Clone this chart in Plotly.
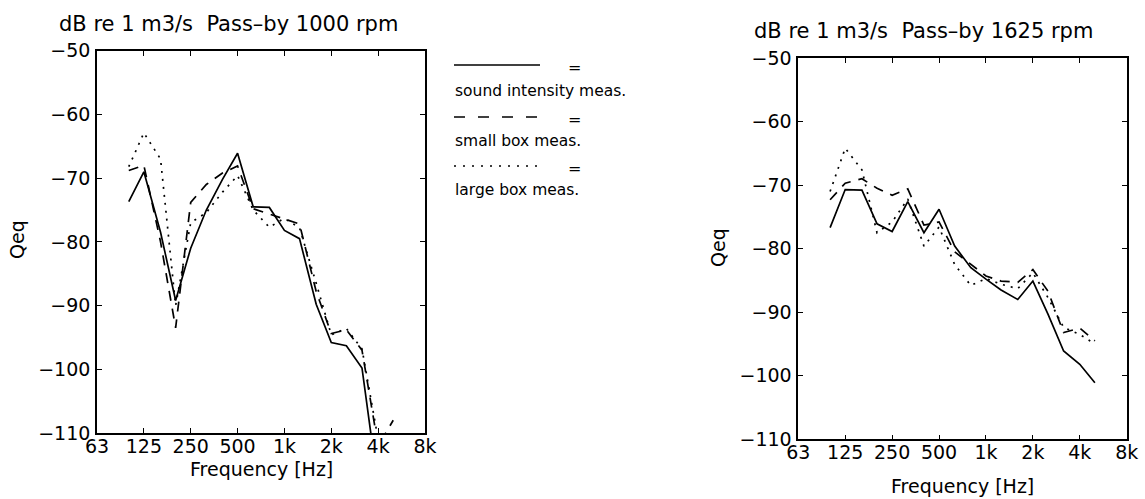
import math
import plotly.graph_objects as go

# ---------------- data ----------------
freqs = [100, 125, 160, 200, 250, 315, 400, 500, 630, 800, 1000, 1250,
         1600, 2000, 2500, 3150, 4000, 5000]

# Pass-by 1000 rpm
si_1000 = [-73.7, -69.0, -78.5, -89.2, -81.0, -75.0, -70.2, -66.1, -74.5, -74.6,
           -78.2, -79.5, -89.8, -95.8, -96.3, -99.8, -118.5, None]
sb_1000 = [-68.8, -68.0, -80.0, -93.5, -73.8, -71.0, -69.2, -68.1, -74.8, -75.6,
           -76.4, -77.2, -87.8, -94.4, -93.8, -97.0, -112.0, -108.0]
lb_1000 = [-68.2, -62.9, -67.0, -90.0, -77.0, -75.4, -72.2, -69.6, -75.0, -77.7,
           -76.3, -77.8, -86.5, -94.6, -93.6, -96.8, -111.0, None]

# Pass-by 1625 rpm
si_1625 = [-76.7, -70.7, -70.8, -76.1, -77.3, -72.6, -77.5, -73.8, -79.6, -83.0,
           -84.8, -86.5, -88.0, -85.1, -90.3, -96.1, -98.2, -101.1]
sb_1625 = [-72.3, -69.7, -69.0, -70.5, -71.6, -70.6, -76.3, -75.8, -80.5, -82.5,
           -84.3, -85.1, -85.3, -83.3, -86.7, -93.2, -92.5, -94.5]
lb_1625 = [-71.0, -64.2, -67.6, -77.5, -75.8, -72.2, -79.6, -76.6, -82.5, -85.8,
           -84.7, -85.6, -86.3, -83.8, -87.7, -92.4, -93.5, -95.0]

x_tickvals = [62.5, 125, 250, 500, 1000, 2000, 4000, 8000]
x_ticktext = ["63", "125", "250", "500", "1k", "2k", "4k", "8k"]
y_tickvals = [-50, -60, -70, -80, -90, -100, -110]
y_ticktext = ["\u221250", "\u221260", "\u221270", "\u221280", "\u221290", "\u2212100", "\u2212110"]

titles = ["dB re 1 m3/s\u00a0\u00a0Pass\u2013by 1000 rpm",
          "dB re 1 m3/s\u00a0\u00a0Pass\u2013by 1625 rpm"]
legend_labels = ["sound intensity meas.", "small box meas.", "large box meas."]

# ---------------- figure ----------------
W, H = 1145, 499
FONT = "DejaVu Sans"
DASH = "10px,8px"
DOT = "2px,6px"

fig = go.Figure()

def add_series(vals, dash, xa, ya):
    fig.add_trace(go.Scatter(
        x=freqs, y=vals, mode="lines", xaxis=xa, yaxis=ya,
        line=dict(color="black", width=1.7, dash=dash),
        showlegend=False, connectgaps=False, hoverinfo="skip"))

add_series(si_1000, "solid", "x", "y")
add_series(sb_1000, DASH, "x", "y")
add_series(lb_1000, DOT, "x", "y")
add_series(si_1625, "solid", "x2", "y2")
add_series(sb_1625, DASH, "x2", "y2")
add_series(lb_1625, DOT, "x2", "y2")

def px_x(x):
    return x / W

def px_y(y):
    return 1 - y / H

xcommon = dict(type="log", range=[math.log10(62.5), math.log10(8000)],
               tickvals=x_tickvals, ticktext=x_ticktext,
               ticks="inside", ticklen=5, tickcolor="black", tickwidth=1,
               showline=True, linecolor="black", linewidth=1.6, mirror="allticks",
               showgrid=False, zeroline=False, automargin=False,
               ticklabelstandoff=-5,
               tickfont=dict(family=FONT, size=19, color="black"))
ycommon = dict(range=[-110, -50], tickvals=y_tickvals, ticktext=y_ticktext,
               ticks="inside", ticklen=5, tickcolor="black", tickwidth=1,
               showline=True, linecolor="black", linewidth=1.6, mirror="allticks",
               showgrid=False, zeroline=False, automargin=False,
               ticklabelstandoff=1,
               tickfont=dict(family=FONT, size=19, color="black"))

fig.update_layout(
    width=W, height=H, autosize=False,
    margin=dict(l=0, r=0, t=0, b=0, autoexpand=False),
    paper_bgcolor="white", plot_bgcolor="white",
    xaxis=dict(domain=[px_x(97), px_x(425)], anchor="y", **xcommon),
    yaxis=dict(domain=[px_y(433), px_y(50.7)], anchor="x", **ycommon),
    xaxis2=dict(domain=[px_x(798.3), px_x(1126.7)], anchor="y2", **xcommon),
    yaxis2=dict(domain=[px_y(439.3), px_y(58)], anchor="x2", **ycommon),
)

ann = []
def text(x, y, s, size=19, xanchor="center", angle=0):
    ann.append(dict(x=px_x(x), y=px_y(y), xref="paper", yref="paper",
                    text=s, showarrow=False, xanchor=xanchor, yanchor="middle",
                    textangle=angle,
                    font=dict(family=FONT, size=size, color="black")))

text(228, 24, titles[0], size=21)
text(923, 31, titles[1], size=21)
text(17, 240, "Qeq", angle=-90)
text(718, 248, "Qeq", angle=-90)
text(261, 469, "Frequency [Hz]")
text(962, 486, "Frequency [Hz]")

# custom legend
leg_line_y = [65, 117, 166]
leg_text_y = [91, 141, 190]
leg_dash = ["solid", "11px,13px", "2px,7px"]
shapes = []
for ly, ty, d, lab in zip(leg_line_y, leg_text_y, leg_dash, legend_labels):
    shapes.append(dict(type="line", xref="paper", yref="paper",
                       x0=px_x(454), x1=px_x(540), y0=px_y(ly), y1=px_y(ly),
                       line=dict(color="black", width=1.6, dash=d)))
    text(574, ly + 2, "=", size=16)
    text(453, ty, lab, size=15.5, xanchor="left")

fig.update_layout(annotations=ann, shapes=shapes)

fig.write_html("out.html", config={"displayModeBar": False},
               post_script="document.body.style.margin='0';document.body.style.padding='0';")
